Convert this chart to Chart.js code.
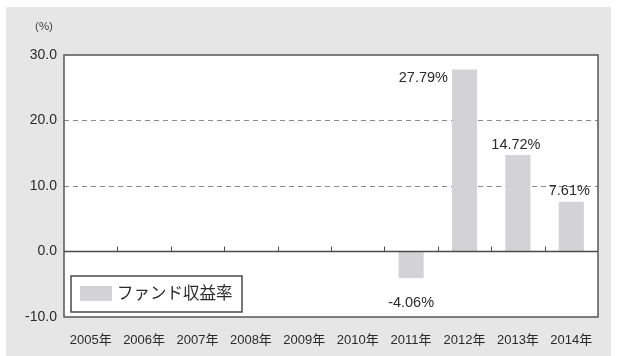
<!DOCTYPE html>
<html>
<head>
<meta charset="utf-8">
<script src="https://cdn.jsdelivr.net/npm/chart.js@4/dist/chart.umd.min.js"></script>
<style>
  html, body { margin: 0; padding: 0; background: #fff; }
  #wrap { width: 617px; height: 356px; }
</style>
</head>
<body>
<div id="wrap"><canvas id="fundChart" width="617" height="356"></canvas></div>
<script>
// データ
const years = ['2005年', '2006年', '2007年', '2008年', '2009年', '2010年', '2011年', '2012年', '2013年', '2014年'];
const fundReturns = [null, null, null, null, null, null, -4.06, 27.79, 14.72, 7.61];
const seriesName = 'ファンド収益率';
const yTicks = [-10, 0, 10, 20, 30];
const unitLabel = '(%)';

const FONT = '"Liberation Sans", Arial, "Noto Sans CJK JP", sans-serif';
const TEXT = '#2a2a2a';
const BAR = '#d3d3d5';

// ラベルの置き方 (インデックス別)
const labelPlace = {
    6: 'below',
    7: 'left',
    8: 'above',
    9: 'above'
};

const decorPlugin = {
    id: 'decor',
    beforeDraw(chart) {
        const ctx = chart.ctx;
        ctx.save();
        ctx.fillStyle = '#ffffff';
        ctx.fillRect(0, 0, chart.width, chart.height);
        ctx.fillStyle = '#e6e6e6';
        ctx.fillRect(6, 7, 605, chart.height - 7);
        const a = chart.chartArea;
        ctx.fillStyle = '#ffffff';
        ctx.fillRect(a.left, a.top, a.right - a.left, a.bottom - a.top);
        ctx.restore();
    },
    afterDatasetsDraw(chart) {
        const ctx = chart.ctx;
        const a = chart.chartArea;
        const x = chart.scales.x;
        const y = chart.scales.y;
        const y0 = y.getPixelForValue(0);
        ctx.save();

        // ゼロ線と目盛り
        ctx.strokeStyle = '#4a4a4a';
        ctx.lineWidth = 1.5;
        ctx.beginPath();
        ctx.moveTo(a.left, y0);
        ctx.lineTo(a.right, y0);
        ctx.stroke();
        ctx.lineWidth = 1;
        for (let i = 0; i < years.length - 1; i++) {
            const bx = Math.round((x.getPixelForValue(i) + x.getPixelForValue(i + 1)) / 2) + 0.5;
            ctx.beginPath();
            ctx.moveTo(bx, y0);
            ctx.lineTo(bx, y0 - 5);
            ctx.stroke();
        }

        // 枠
        ctx.strokeStyle = '#555555';
        ctx.lineWidth = 1.5;
        ctx.strokeRect(a.left, a.top, a.right - a.left, a.bottom - a.top);

        // 値ラベル
        const meta = chart.getDatasetMeta(0);
        ctx.font = '14.5px ' + FONT;
        ctx.fillStyle = TEXT;
        fundReturns.forEach((v, i) => {
            if (v === null) return;
            const bar = meta.data[i];
            const txt = v.toFixed(2) + '%';
            const left = bar.x - bar.width / 2;
            const place = labelPlace[i];
            if (place === 'left') {
                ctx.textAlign = 'right';
                ctx.textBaseline = 'middle';
                ctx.fillText(txt, left - 4, bar.y + 9);
            } else if (place === 'above') {
                ctx.textAlign = 'center';
                ctx.textBaseline = 'bottom';
                ctx.fillText(txt, bar.x - 2, bar.y - 3);
            } else {
                ctx.textAlign = 'center';
                ctx.textBaseline = 'middle';
                ctx.fillText(txt, bar.x, bar.y + 25);
            }
        });

        // 凡例
        const lx = a.left + 7, ly = 276, lw = 171, lh = 36;
        ctx.fillStyle = '#ffffff';
        ctx.fillRect(lx, ly, lw, lh);
        ctx.strokeStyle = '#4a4a4a';
        ctx.lineWidth = 1.5;
        ctx.strokeRect(lx, ly, lw, lh);
        ctx.fillStyle = BAR;
        ctx.fillRect(lx + 9, ly + 10, 32, 15);
        ctx.fillStyle = TEXT;
        ctx.font = '16.5px ' + FONT;
        ctx.textAlign = 'left';
        ctx.textBaseline = 'middle';
        ctx.fillText(seriesName, lx + 46, ly + 18);

        // 単位
        ctx.font = '11.5px ' + FONT;
        ctx.fillStyle = '#444444';
        ctx.textAlign = 'center';
        ctx.fillText(unitLabel, 44, 27);
        ctx.restore();
    }
};

new Chart(document.getElementById('fundChart'), {
    type: 'bar',
    data: {
        labels: years,
        datasets: [{
            label: seriesName,
            data: fundReturns,
            backgroundColor: BAR,
            borderWidth: 0,
            barPercentage: 0.47,
            categoryPercentage: 1.0
        }]
    },
    plugins: [decorPlugin],
    options: {
        responsive: false,
        animation: false,
        layout: { padding: { top: 55, right: 19, left: 0, bottom: 0 } },
        plugins: {
            legend: { display: false },
            tooltip: { enabled: false }
        },
        scales: {
            x: {
                grid: { display: false, drawTicks: false },
                border: { display: false },
                ticks: {
                    color: TEXT,
                    font: { family: FONT, size: 13 },
                    padding: 16,
                    maxRotation: 0,
                    autoSkip: false
                },
                afterFit(scale) { scale.height = 39; }
            },
            y: {
                min: -10,
                max: 30,
                afterBuildTicks(scale) { scale.ticks = yTicks.map(v => ({ value: v })); },
                grid: {
                    drawTicks: false,
                    color: ctx => (ctx.tick && (ctx.tick.value === 10 || ctx.tick.value === 20)) ? '#8a8a8a' : 'rgba(0,0,0,0)',
                    lineWidth: 1
                },
                border: { display: false, dash: [5, 4] },
                ticks: {
                    color: TEXT,
                    font: { family: FONT, size: 14 },
                    padding: 7,
                    callback: v => v.toFixed(1)
                },
                afterFit(scale) { scale.width = 64; }
            }
        }
    }
});
</script>
</body>
</html>
